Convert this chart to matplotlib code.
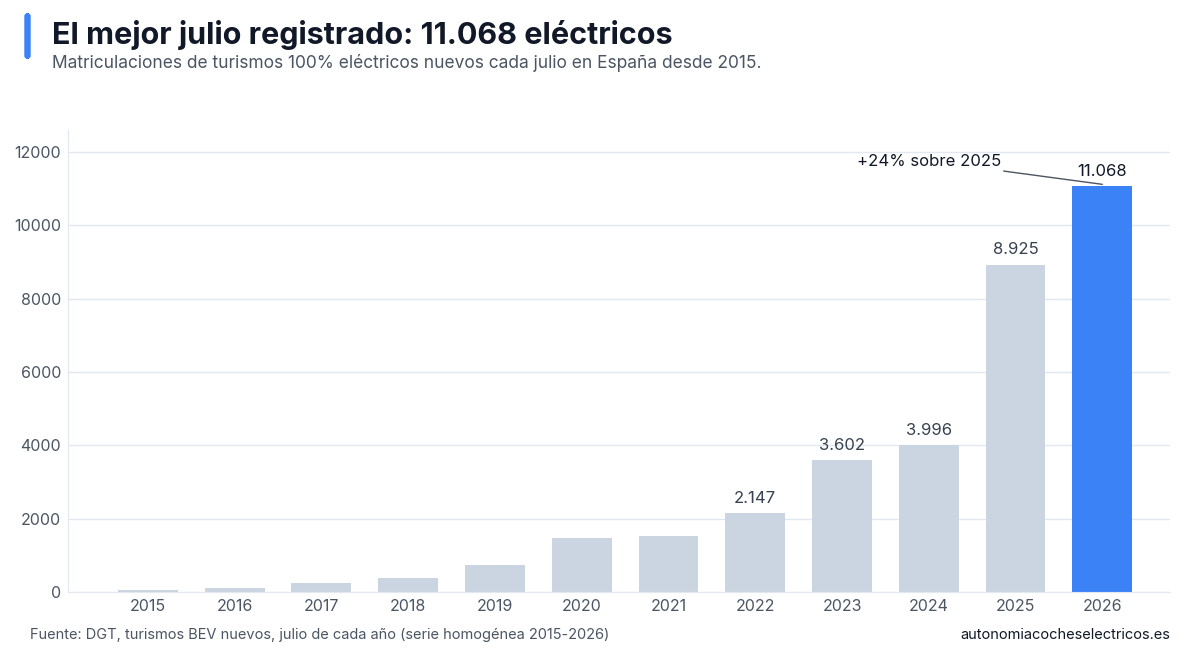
import matplotlib
matplotlib.use("Agg")
import matplotlib.pyplot as plt

years = ["2015","2016","2017","2018","2019","2020","2021","2022","2023","2024","2025","2026"]
values = [60, 110, 250, 370, 745, 1475, 1540, 2147, 3602, 3996, 8925, 11068]
labels = {7:"2.147", 8:"3.602", 9:"3.996", 10:"8.925", 11:"11.068"}

plt.rcParams['font.family'] = ['Inter', 'DejaVu Sans']
fig = plt.figure(figsize=(12, 6.59), dpi=100)
ax = fig.add_axes([68/1200, 1-592/659, (1170-68)/1200, (592-130)/659])
x = list(range(len(years)))
colors = ["#cbd5e1"]*11 + ["#3b82f6"]
ax.bar(x, values, width=0.69, color=colors, zorder=2)
ax.set_xlim(-0.92, 11.78)
ax.set_ylim(0, 12600)
ax.set_xticks(x, years)
ax.set_yticks(range(0, 12001, 2000))
ax.grid(axis='y', color='#e2e8f0', lw=1, zorder=0)
for s in ['top','right']:
    ax.spines[s].set_visible(False)
ax.spines['left'].set_color('#e2e8f0')
ax.spines['bottom'].set_color('#e2e8f0')
ax.tick_params(length=0, labelsize=11.5, colors='#4b5563', pad=5)
for i, t in labels.items():
    ax.text(i, values[i] + 200, t, ha='center', va='bottom', fontsize=12, color='#111827' if i == 11 else '#374151')
ax.annotate("+24% sobre 2025", xy=(11, values[11] + 50), xytext=(9.0, 11550),
            ha='center', va='bottom', fontsize=12, color='#111827',
            arrowprops=dict(arrowstyle='-', color='#4b5563', lw=1, shrinkA=0, shrinkB=0))

fig.patches.append(matplotlib.patches.FancyBboxPatch((25/1200, 1-58/659), 5/1200, 44/659,
    boxstyle="round,pad=0,rounding_size=0.003", transform=fig.transFigure, color='#3b82f6'))
fig.text(52/1200, 1-35/659, "El mejor julio registrado: 11.068 eléctricos", fontsize=22, fontweight='bold', color='#111827', va='center')
fig.text(52/1200, 1-63/659, "Matriculaciones de turismos 100% eléctricos nuevos cada julio en España desde 2015.", fontsize=12.5, color='#4b5563', va='center')
fig.text(30/1200, 1-635/659, "Fuente: DGT, turismos BEV nuevos, julio de cada año (serie homogénea 2015-2026)", fontsize=10.5, color='#4b5563', va='center')
fig.text(1170/1200, 1-635/659, "autonomiacocheselectricos.es", fontsize=10.5, color='#111827', va='center', ha='right')
fig.savefig("out.png", dpi=100, facecolor='white')
